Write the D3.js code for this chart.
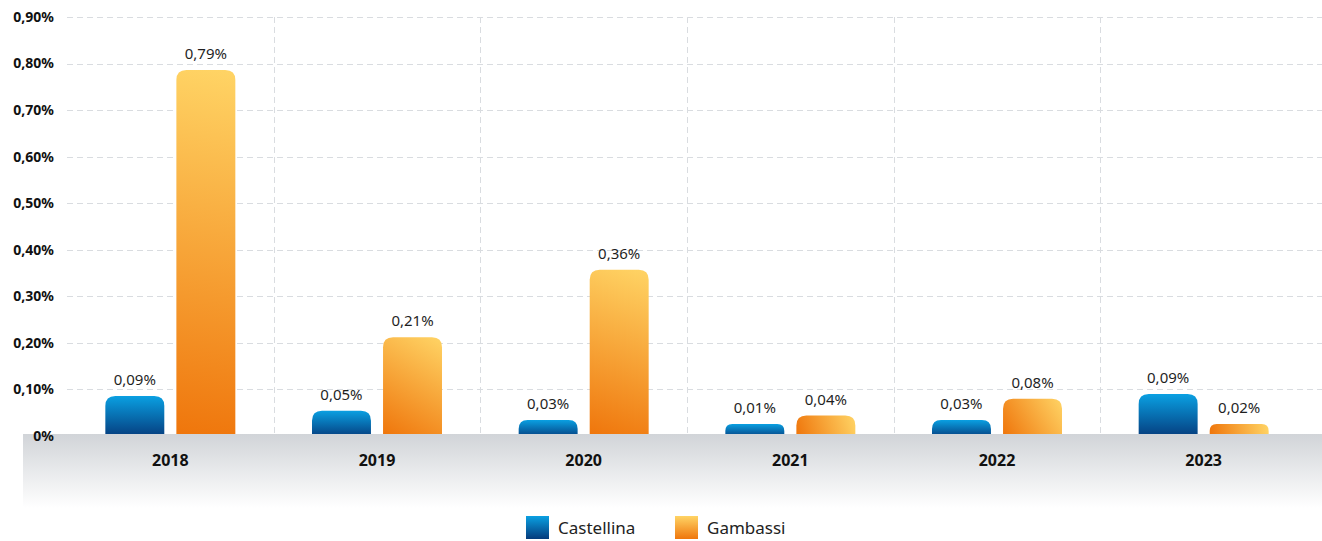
<!DOCTYPE html>
<html>
<head>
<meta charset="utf-8">
<script src="https://cdn.jsdelivr.net/npm/d3@7"></script>
<style>
  html, body { margin: 0; padding: 0; background: #ffffff; }
  svg { display: block; font-family: "Noto Sans", "Open Sans", sans-serif; }
</style>
</head>
<body>
<svg id="chart" width="1322" height="541"></svg>
<script>
// ---- data ----
const years = ["2018", "2019", "2020", "2021", "2022", "2023"];
const seriesNames = ["Castellina", "Gambassi"];
const castellina = [0.086, 0.0545, 0.0345, 0.014, 0.0345, 0.09];
const gambassi = [0.786, 0.212, 0.357, 0.044, 0.08, 0.024];
const yTicks = [0, 0.1, 0.2, 0.3, 0.4, 0.5, 0.6, 0.7, 0.8, 0.9];

const svg = d3.select("#chart");
const W = 1322, H = 541;
const plotLeft = 67, plotRight = 1322, plotTop = 17, baseY = 436, bandTop = 434;

const x = d3.scaleBand().domain(years).range([67, 1307]).padding(0);
const xInner = d3.scaleBand().domain(seriesNames).range([0, 130]).paddingInner(0.17);
const y = d3.scaleLinear().domain([0, 0.9]).range([baseY, plotTop]);

const fmtPct = v => (v === 0 ? "0%" : d3.format(".2f")(v).replace(".", ",") + "%");

const defs = svg.append("defs");
function vGrad(id, top, bottom) {
  const g = defs.append("linearGradient").attr("id", id).attr("x1", 0).attr("y1", 0).attr("x2", 0).attr("y2", 1);
  g.append("stop").attr("offset", "0%").attr("stop-color", top);
  g.append("stop").attr("offset", "100%").attr("stop-color", bottom);
}
vGrad("gBlue", "#0aa0e2", "#053a7b");
vGrad("gOrangeV", "#ffd465", "#ef760c");
vGrad("gBand", "#d1d4d8", "#ffffff");

// horizontal gridlines
svg.append("g").selectAll("line").data(yTicks.filter(t => t > 0)).join("line")
  .attr("x1", plotLeft).attr("x2", plotRight)
  .attr("y1", d => Math.round(y(d)) + 0.5).attr("y2", d => Math.round(y(d)) + 0.5)
  .attr("stroke", "#d9dce0").attr("stroke-width", 1).attr("stroke-dasharray", "6,4");

// vertical gridlines at band boundaries
svg.append("g").selectAll("line").data(years.slice(1)).join("line")
  .attr("x1", d => Math.round(x(d)) + 0.5).attr("x2", d => Math.round(x(d)) + 0.5)
  .attr("y1", plotTop).attr("y2", bandTop)
  .attr("stroke", "#d9dce0").attr("stroke-width", 1).attr("stroke-dasharray", "6,4");

// bars
const rows = years.map((yr, i) => ({ year: yr, values: [
  { name: "Castellina", v: castellina[i], i },
  { name: "Gambassi", v: gambassi[i], i }
]}));
const minH = 12;
function topOf(v) { return Math.min(y(v), baseY - minH); }
function barPath(x0, w, top, bottom) {
  const r = Math.min(10, (bottom - top) / 2, w / 2);
  return `M${x0},${bottom}V${top + r}Q${x0},${top} ${x0 + r},${top}H${x0 + w - r}Q${x0 + w},${top} ${x0 + w},${top + r}V${bottom}Z`;
}
const gx = d => x(d.year) + x.bandwidth() / 2 - 65;

// per-bar diagonal gradients for Gambassi (bottom-left orange -> top-right yellow), in the group's local coordinates
rows.forEach(r => {
  const d = r.values[1];
  const x0 = xInner(d.name), w = xInner.bandwidth();
  const top = topOf(d.v), bottom = bandTop;
  const g = defs.append("linearGradient").attr("id", "gOr" + d.i)
    .attr("gradientUnits", "userSpaceOnUse")
    .attr("x1", x0).attr("y1", bottom).attr("x2", x0 + w).attr("y2", top);
  g.append("stop").attr("offset", "0%").attr("stop-color", "#ef760c");
  g.append("stop").attr("offset", "100%").attr("stop-color", "#ffd465");
});
const fillOf = d => d.name === "Castellina" ? "url(#gBlue)" : "url(#gOr" + d.i + ")";

const groups = svg.append("g").selectAll("g").data(rows).join("g")
  .attr("transform", d => `translate(${gx(d)},0)`);
groups.selectAll("path").data(d => d.values).join("path")
  .attr("d", d => barPath(xInner(d.name), xInner.bandwidth(), topOf(d.v), baseY + 2))
  .attr("fill", fillOf);
groups.selectAll("text").data(d => d.values).join("text")
  .attr("x", d => xInner(d.name) + xInner.bandwidth() / 2)
  .attr("y", d => topOf(d.v) - 11)
  .attr("text-anchor", "middle")
  .attr("font-size", 15).attr("fill", "#1f1f1f")
  .text(d => fmtPct(d.v));

// bottom grey band
svg.append("rect").attr("x", 23).attr("y", bandTop).attr("width", W - 23).attr("height", 74)
  .attr("fill", "url(#gBand)");

// y axis labels
svg.append("g").selectAll("text").data(yTicks).join("text")
  .attr("x", 54).attr("y", d => y(d)).attr("dy", "0.35em")
  .attr("text-anchor", "end").attr("font-size", 14).attr("font-weight", "bold").attr("fill", "#111")
  .text(d => fmtPct(d));

// x axis labels
svg.append("g").selectAll("text").data(years).join("text")
  .attr("x", d => x(d) + x.bandwidth() / 2).attr("y", 466)
  .attr("text-anchor", "middle").attr("font-size", 16).attr("font-weight", "bold").attr("fill", "#111")
  .text(d => d);

// legend
const legendFills = { Castellina: "url(#gBlue)", Gambassi: "url(#gOrangeV)" };
const legendX = [526, 675];
const lg = svg.append("g").selectAll("g").data(seriesNames).join("g")
  .attr("transform", (d, i) => `translate(${legendX[i]},516)`);
lg.append("rect").attr("width", 23).attr("height", 23).attr("fill", d => legendFills[d]);
lg.append("text").attr("x", 32).attr("y", 11.5).attr("dy", "0.36em")
  .attr("font-size", 17).attr("fill", "#222").text(d => d);
</script>
</body>
</html>
